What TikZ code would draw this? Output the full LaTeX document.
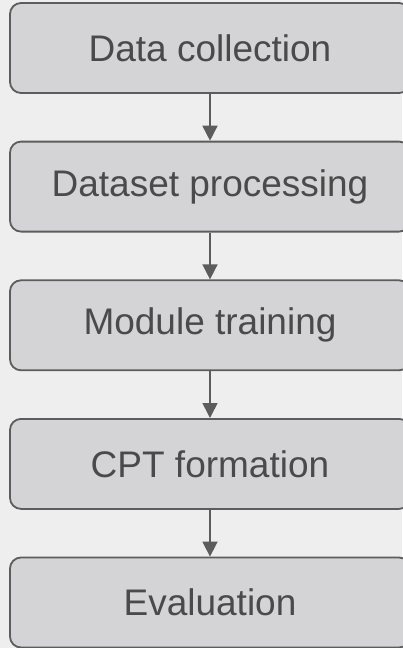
\documentclass[tikz,border=0pt]{standalone}
\usepackage{fontspec}
\setmainfont{Liberation Sans}
\usetikzlibrary{arrows.meta}
\definecolor{bgc}{HTML}{EEEEEE}
\definecolor{boxc}{HTML}{D4D4D6}
\definecolor{linec}{HTML}{5C5C5C}
\definecolor{textc}{HTML}{4A4A4A}
\begin{document}
\begin{tikzpicture}[x=1pt,y=1pt,
  stepbox/.style={draw=linec, line width=1.8pt, fill=boxc, rounded corners=11pt,
    minimum width=400pt, minimum height=90pt, inner sep=0pt,
    text=textc, font=\fontsize{37}{44}\selectfont},
  flow/.style={draw=linec, line width=1.6pt, -{Triangle[width=15pt,length=15pt]}}]
\fill[bgc] (0,0) rectangle (402,-648);
\useasboundingbox (0,0) rectangle (402,-648);
\node[stepbox] (a) at (210,-48) {Data collection};
\node[stepbox] (b) at (210,-186.6) {Dataset processing};
\node[stepbox] (c) at (210,-325.3) {Module training};
\node[stepbox] (d) at (210,-463.9) {CPT formation};
\node[stepbox] (e) at (210,-602.5) {Evaluation};
\draw[flow] (a) -- (b);
\draw[flow] (b) -- (c);
\draw[flow] (c) -- (d);
\draw[flow] (d) -- (e);
\end{tikzpicture}
\end{document}
